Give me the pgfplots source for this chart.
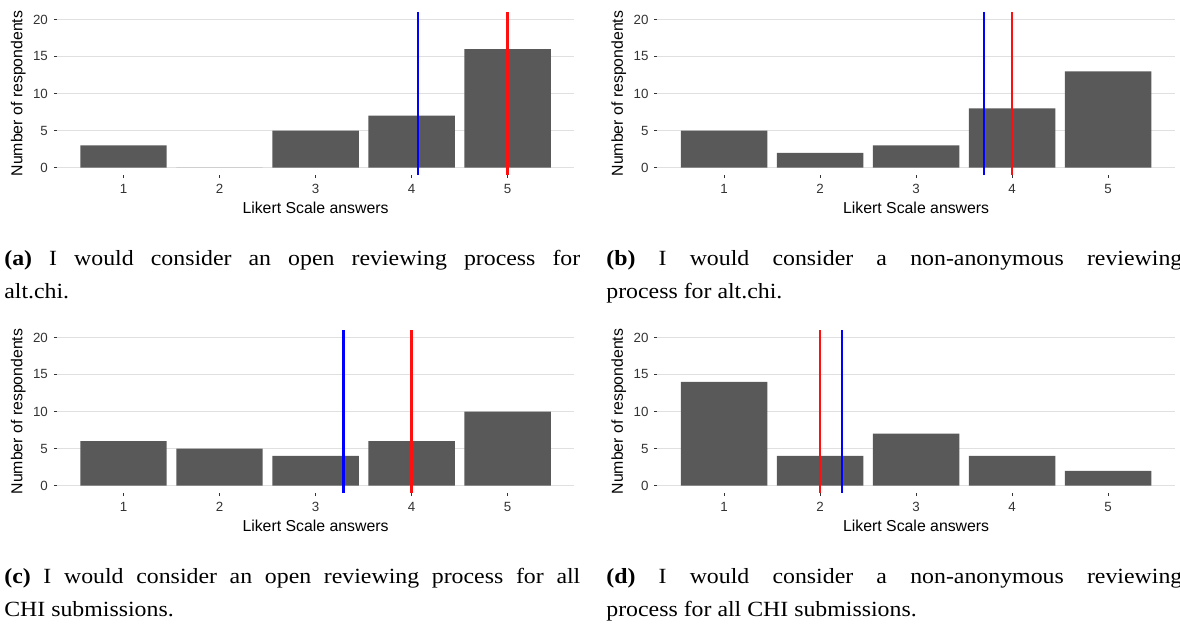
\documentclass[border=0pt]{standalone}
\usepackage{fontspec}
\usepackage{pgfplots}
\pgfplotsset{compat=1.18}
\newfontfamily\arial{Liberation Sans}
\newfontfamily\pala[FakeStretch=1.1]{Liberation Serif}
\definecolor{barc}{HTML}{595959}
\definecolor{gridc}{HTML}{E0E0E0}
\definecolor{tickc}{HTML}{333333}
\definecolor{medc}{HTML}{FF1010}
\definecolor{meanc}{HTML}{0000FF}

\pgfplotsset{likert/.style={
  scale only axis, width=310.5pt, height=97.8pt,
  xmin=0.305, xmax=5.695, ymin=-1, ymax=21,
  axis line style={draw=none},
  xtick={1,2,3,4,5}, ytick={0,5,10,15,20},
  tick pos=left, tick align=outside,
  major tick length=1.8pt,
  major tick style={draw=tickc, line width=0.6pt},
  ymajorgrids, grid style={draw=gridc, line width=0.6pt},
  /pgf/number format/assume math mode=true,
  ticklabel style={font=\arial\fontsize{8}{9}\selectfont, color=tickc},
  label style={font=\arial\fontsize{9.5}{11}\selectfont},
  xlabel={Likert Scale answers}, ylabel={Number of respondents},
  xlabel style={at={(axis description cs:0.5,-0.2025)}, anchor=center},
  ylabel style={at={(axis description cs:-0.0744,0.5)}, anchor=center},
  bar width=0.9,
  bars/.style={ybar, bar shift=0pt, fill=barc, draw=none},
  mean/.style={sharp plot, draw=meanc, mark=none, line width=1.4pt},
  median/.style={sharp plot, draw=medc, mark=none, line width=1.4pt},
}}
\newcommand\capfont{\pala\fontsize{13}{19.8}\selectfont}

\begin{document}
\begin{tikzpicture}[x=0.6pt,y=0.6pt]
\useasboundingbox (0,0) rectangle (1180,624);

% (a)
\begin{axis}[likert, at={(34.08pt,269.4pt)}, anchor=south west]
\addplot[bars] coordinates {(1,3) (2,0) (3,5) (4,7) (5,16)};
\addplot[mean] coordinates {(4.065,-1) (4.065,21)};
\addplot[median] coordinates {(5,-1) (5,21)};
\end{axis}

% (b)
\begin{axis}[likert, at={(394.44pt,269.4pt)}, anchor=south west]
\addplot[bars] coordinates {(1,5) (2,2) (3,3) (4,8) (5,13)};
\addplot[mean] coordinates {(3.71,-1) (3.71,21)};
\addplot[median] coordinates {(4,-1) (4,21)};
\end{axis}

% (c)
\begin{axis}[likert, at={(34.08pt,78.6pt)}, anchor=south west]
\addplot[bars] coordinates {(1,6) (2,5) (3,4) (4,6) (5,10)};
\addplot[mean] coordinates {(3.29,-1) (3.29,21)};
\addplot[median] coordinates {(4,-1) (4,21)};
\end{axis}

% (d)
\begin{axis}[likert, at={(394.44pt,78.6pt)}, anchor=south west]
\addplot[bars] coordinates {(1,14) (2,4) (3,7) (4,4) (5,2)};
\addplot[median] coordinates {(2,-1) (2,21)};
\addplot[mean] coordinates {(2.226,-1) (2.226,21)};
\end{axis}

% captions
\node[anchor=base west, inner sep=0] at (4,359) {\capfont\makebox[345.6pt][s]{\textbf{(a)} I would consider an open reviewing process for}};
\node[anchor=base west, inner sep=0] at (4,326) {\capfont alt.chi.};
\node[anchor=base west, inner sep=0] at (606,359) {\capfont\makebox[345.6pt][s]{\textbf{(b)} I would consider a non-anonymous reviewing}};
\node[anchor=base west, inner sep=0] at (606,326) {\capfont process for alt.chi.};
\node[anchor=base west, inner sep=0] at (4,41) {\capfont\makebox[345.6pt][s]{\textbf{(c)} I would consider an open reviewing process for all}};
\node[anchor=base west, inner sep=0] at (4,8) {\capfont CHI submissions.};
\node[anchor=base west, inner sep=0] at (606,41) {\capfont\makebox[345.6pt][s]{\textbf{(d)} I would consider a non-anonymous reviewing}};
\node[anchor=base west, inner sep=0] at (606,8) {\capfont process for all CHI submissions.};
\end{tikzpicture}
\end{document}
